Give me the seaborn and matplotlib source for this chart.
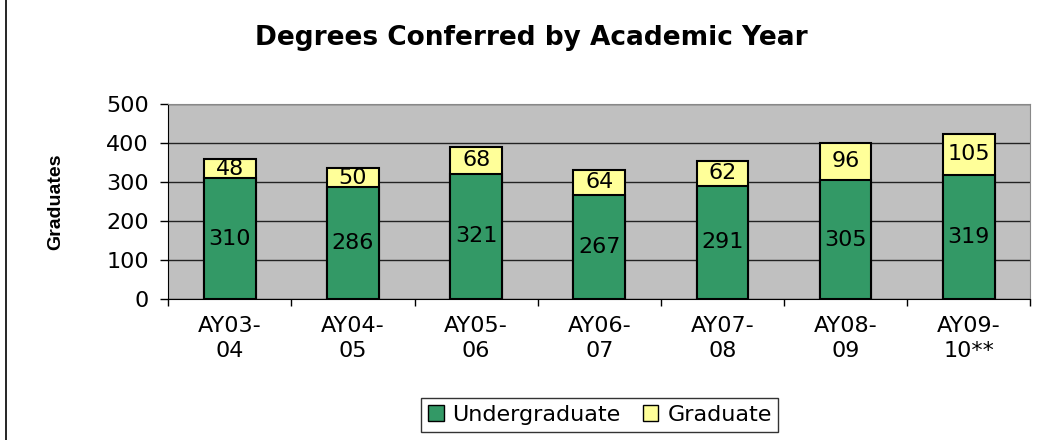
import seaborn as sns
import matplotlib.pyplot as plt
import pandas as pd
from matplotlib.patches import Rectangle
from matplotlib.patches import Patch

years = ['AY03-\n04', 'AY04-\n05', 'AY05-\n06', 'AY06-\n07', 'AY07-\n08', 'AY08-\n09', 'AY09-\n10**']
undergrad = [310, 286, 321, 267, 291, 305, 319]
grad = [48, 50, 68, 64, 62, 96, 105]

green = '#339966'
yellow = '#FFFF99'

sns.set_style('white')
plt.rcParams['font.family'] = ['DejaVu Sans']
plt.rcParams.update({'text.color': 'black', 'axes.labelcolor': 'black',
                     'xtick.color': 'black', 'ytick.color': 'black'})

df = pd.DataFrame({'year': years, 'Undergraduate': undergrad, 'Graduate': grad})
df['total'] = df['Undergraduate'] + df['Graduate']

fig = plt.figure(figsize=(10.45, 4.40), dpi=100)
ax = fig.add_axes([0.161, 0.320, 0.825, 0.444])
ax.set_facecolor('#C0C0C0')

# stacked look: totals in yellow, undergrads drawn on top in green
sns.barplot(data=df, x='year', y='total', color=yellow, width=0.42, edgecolor='black', linewidth=1.5, saturation=1, ax=ax)
sns.barplot(data=df, x='year', y='Undergraduate', color=green, width=0.42, edgecolor='black', linewidth=1.5, saturation=1, ax=ax)

for i, row in df.iterrows():
    ax.text(i, row['Undergraduate'] / 2, str(row['Undergraduate']), ha='center', va='center', fontsize=16)
    ax.text(i, row['Undergraduate'] + row['Graduate'] / 2, str(row['Graduate']), ha='center', va='center', fontsize=16)

ax.set_ylim(0, 500)
ax.set_xlim(-0.5, len(years) - 0.5)
ax.set_yticks(range(0, 501, 100))
ax.yaxis.grid(True, color='#222222', linewidth=1)
ax.set_axisbelow(True)
ax.tick_params(axis='y', labelsize=16, direction='out', length=6, width=1, left=True, pad=8)
ax.tick_params(axis='x', labelsize=16, length=0, pad=12)
ax.set_xticks([i + 0.5 for i in range(-1, len(years))], minor=True)
ax.tick_params(axis='x', which='minor', direction='out', length=5, width=1, bottom=True)
for lbl in ax.get_xticklabels():
    lbl.set_linespacing(1.3)

ax.set_xlabel('')
ax.set_ylabel('Graduates', fontsize=14, fontweight='bold', labelpad=30,
              family=['Liberation Sans Narrow', 'Liberation Sans', 'DejaVu Sans'])
for s in ['top', 'right']:
    ax.spines[s].set_color('#888888')
ax.spines['left'].set_color('black')
ax.spines['bottom'].set_color('black')

fig.text(0.508, 0.913, 'Degrees Conferred by Academic Year', ha='center', va='center', fontsize=19, fontweight='bold')

handles = [Patch(facecolor=green, edgecolor='black'), Patch(facecolor=yellow, edgecolor='black')]
fig.legend(handles, ['Undergraduate', 'Graduate'], loc='center', bbox_to_anchor=(0.574, 0.057), ncol=2,
           fontsize=16, frameon=True, fancybox=False, edgecolor='black', handlelength=0.7, handleheight=0.7,
           handletextpad=0.4, columnspacing=1.0, borderpad=0.3)

fig.patches.append(Rectangle((0.006, -0.01), 1.5, 1.02, transform=fig.transFigure, fill=False, edgecolor='black', linewidth=1.2))

fig.savefig('out.png', dpi=100)
